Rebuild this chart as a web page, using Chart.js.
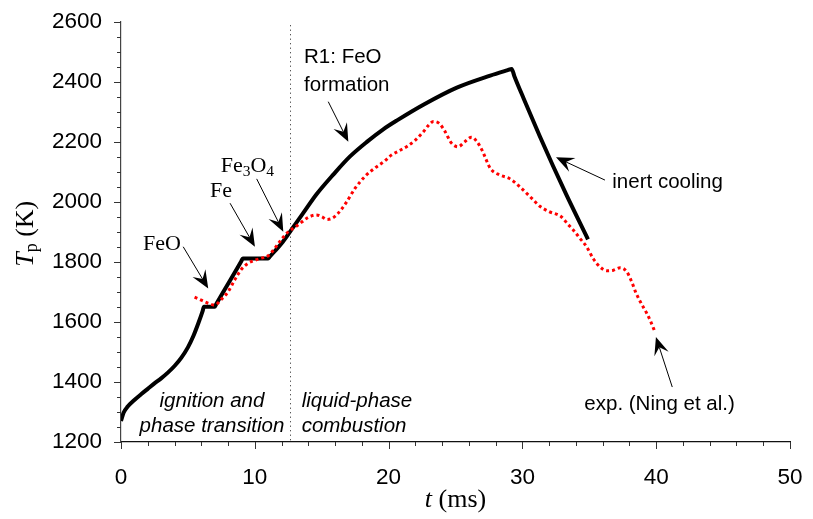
<!DOCTYPE html>
<html>
<head>
<meta charset="utf-8">
<script src="https://cdn.jsdelivr.net/npm/chart.js@4.4.1/dist/chart.umd.min.js"></script>
<style>
  html, body { margin: 0; padding: 0; background: #fff; }
</style>
</head>
<body>
<canvas id="chart" width="813" height="519"></canvas>
<script>
// model (black line): particle temperature vs time
const simTime = [0, 0.2, 0.5, 1.0, 1.5, 2.0, 2.5, 3.0, 3.5, 4.0, 4.5, 5.0, 5.4, 5.8, 6.1, 6.2,
  7.0, 7.1, 9.0, 9.1, 11.0, 11.1,
  12.1, 12.9, 13.6, 14.6, 15.9, 17.1, 18.4, 19.6, 20.6, 22.6, 25.1, 27.6, 28.9, 29.2,
  29.4, 30.1, 31.3, 32.3, 33.3, 34.9];
const simTemp = [1270, 1298, 1318, 1340, 1359, 1377, 1395, 1412, 1431, 1453, 1480, 1515, 1552, 1598, 1636, 1650,
  1650, 1658, 1803, 1811, 1811, 1816,
  1867, 1917, 1961, 2024, 2092, 2150, 2200, 2241, 2270, 2323, 2380, 2420, 2438, 2442,
  2418, 2343, 2218, 2118, 2022, 1875];

// experiment, Ning et al. (red dotted)
const expTime = [5.5, 6.0, 6.5, 7.0, 7.5, 8.0, 8.5, 9.0, 9.5, 10.0, 10.5, 11.0, 11.5, 12.0, 12.5,
  13.0, 13.5, 14.0, 14.6, 15.0, 15.4, 15.8, 16.2, 16.8, 17.5, 18.3, 19.0, 19.7, 20.2, 20.8,
  21.4, 22.0, 22.6, 23.0, 23.35, 23.8, 24.2, 24.7, 25.2, 25.7, 26.2, 26.6, 27.0, 27.6, 28.3,
  29.0, 29.8, 30.7, 31.3, 32.0, 32.9, 33.4, 33.8, 34.3, 34.8, 35.3, 35.8, 36.3, 36.8, 37.3,
  37.8, 38.2, 38.5, 38.9, 39.3, 39.6, 39.9];
const expTemp = [1682, 1672, 1662, 1656, 1675, 1700, 1740, 1775, 1795, 1805, 1812, 1820, 1845, 1875, 1900,
  1915, 1932, 1948, 1956, 1950, 1941, 1945, 1960, 1995, 2045, 2087, 2113, 2135, 2155, 2170,
  2185, 2205, 2233, 2255, 2267, 2260, 2235, 2195, 2183, 2200, 2215, 2200, 2170, 2111, 2089,
  2078, 2050, 2011, 1985, 1967, 1950, 1925, 1906, 1878, 1850, 1810, 1783, 1770, 1772, 1780,
  1767, 1730, 1695, 1660, 1628, 1600, 1567];

const phaseBoundary = 12.6;

// text labels (t, T at left baseline unless centred)
const sansNotes = [
  { text: 'R1: FeO', t: 13.68, T: 2461 },
  { text: 'formation', t: 13.68, T: 2370 },
  { text: 'inert cooling', t: 36.72, T: 2045 },
  { text: 'exp. (Ning et al.)', t: 34.63, T: 1306 },
];
const italicNotes = [
  { text: 'ignition and', t: 6.8, T: 1317, align: 'center' },
  { text: 'phase transition', t: 6.8, T: 1232, align: 'center' },
  { text: 'liquid-phase', t: 13.5, T: 1317, align: 'left' },
  { text: 'combustion', t: 13.5, T: 1233, align: 'left' },
];
// species labels, [main, subscript] pieces
const speciesNotes = [
  { parts: [['FeO', '']], t: 1.64, T: 1839 },
  { parts: [['Fe', '']], t: 6.65, T: 2017 },
  { parts: [['Fe', '3'], ['O', '4']], t: 7.45, T: 2100 },
];
// arrows: [tFrom, TFrom, tTip, TTip]
const arrows = [
  [4.65, 1850, 6.52, 1711],
  [8.15, 1995, 10.01, 1850],
  [10.14, 2076, 12.13, 1900],
  [15.49, 2333, 16.99, 2200],
  [36.17, 2072, 32.51, 2148],
  [41.2, 1383, 39.98, 1550],
];

const toPoints = (xs, ys) => xs.map((v, i) => ({ x: v, y: ys[i] }));

function drawArrow(ctx, x0, y0, x1, y1) {
  const a = Math.atan2(y1 - y0, x1 - x0);
  const len = 18, half = 7.5, notch = 11;
  ctx.beginPath();
  ctx.moveTo(x0, y0);
  ctx.lineTo(x1 - Math.cos(a) * notch, y1 - Math.sin(a) * notch);
  ctx.lineWidth = 1;
  ctx.strokeStyle = '#000';
  ctx.stroke();
  ctx.save();
  ctx.translate(x1, y1);
  ctx.rotate(a);
  ctx.beginPath();
  ctx.moveTo(0, 0);
  ctx.lineTo(-len, -half);
  ctx.lineTo(-notch, 0);
  ctx.lineTo(-len, half);
  ctx.closePath();
  ctx.fillStyle = '#000';
  ctx.fill();
  ctx.restore();
}

const overlay = {
  id: 'overlay',
  beforeDatasetsDraw(chart) {
    const { ctx, chartArea, scales: { x, y } } = chart;
    ctx.save();
    ctx.strokeStyle = '#444';
    ctx.lineWidth = 1;
    ctx.setLineDash([1.2, 3.3]);
    const px = Math.round(x.getPixelForValue(phaseBoundary)) + 0.5;
    ctx.beginPath();
    ctx.moveTo(px, y.getPixelForValue(2588));
    ctx.lineTo(px, chartArea.bottom);
    ctx.stroke();
    ctx.restore();
  },
  afterDraw(chart) {
    const { ctx, chartArea, scales: { x, y } } = chart;
    ctx.save();

    // major / minor tick marks
    ctx.strokeStyle = '#333';
    ctx.lineWidth = 1;
    for (let v = x.min; v <= x.max + 1e-9; v += 2) {
      const px = Math.round(x.getPixelForValue(v)) + 0.5;
      const len = v % 10 === 0 ? 7 : 4;
      ctx.beginPath();
      ctx.moveTo(px, chartArea.bottom);
      ctx.lineTo(px, chartArea.bottom + len);
      ctx.stroke();
    }
    for (let v = y.min; v <= y.max + 1e-9; v += 50) {
      const py = Math.round(y.getPixelForValue(v)) + 0.5;
      const len = v % 200 === 0 ? 7 : 4;
      ctx.beginPath();
      ctx.moveTo(chartArea.left, py);
      ctx.lineTo(chartArea.left - len, py);
      ctx.stroke();
    }

    ctx.fillStyle = '#000';
    ctx.textBaseline = 'alphabetic';

    ctx.font = '20.5px "Liberation Sans", Arial, sans-serif';
    ctx.textAlign = 'left';
    sansNotes.forEach(n => ctx.fillText(n.text, x.getPixelForValue(n.t), y.getPixelForValue(n.T)));

    ctx.font = 'italic 20.5px "Liberation Sans", Arial, sans-serif';
    italicNotes.forEach(n => {
      ctx.textAlign = n.align;
      ctx.fillText(n.text, x.getPixelForValue(n.t), y.getPixelForValue(n.T));
    });

    ctx.textAlign = 'left';
    speciesNotes.forEach(n => {
      let cx = x.getPixelForValue(n.t);
      const cy = y.getPixelForValue(n.T);
      n.parts.forEach(([main, sub]) => {
        ctx.font = '22px "Liberation Serif", "Times New Roman", serif';
        ctx.fillText(main, cx, cy);
        cx += ctx.measureText(main).width;
        if (sub) {
          ctx.font = '15.5px "Liberation Serif", "Times New Roman", serif';
          ctx.fillText(sub, cx, cy + 4);
          cx += ctx.measureText(sub).width;
        }
      });
    });

    arrows.forEach(([t0, T0, t1, T1]) => drawArrow(ctx,
      x.getPixelForValue(t0), y.getPixelForValue(T0),
      x.getPixelForValue(t1), y.getPixelForValue(T1)));

    // x axis title: t (ms)
    const serif = '"Liberation Serif", "Times New Roman", serif';
    const xPieces = [['italic 26px ' + serif, 't'], ['26px ' + serif, ' (ms)']];
    let total = 0;
    xPieces.forEach(([f, s]) => { ctx.font = f; total += ctx.measureText(s).width; });
    let cx = (chartArea.left + chartArea.right) / 2 - total / 2;
    xPieces.forEach(([f, s]) => { ctx.font = f; ctx.fillText(s, cx, 507); cx += ctx.measureText(s).width; });

    // y axis title: T_p (K)
    ctx.save();
    ctx.translate(33, (chartArea.top + chartArea.bottom) / 2 + 2);
    ctx.rotate(-Math.PI / 2);
    const yPieces = [['italic 26px ' + serif, 'T', 0], ['18px ' + serif, 'p', 4], ['26px ' + serif, ' (K)', 0]];
    total = 0;
    yPieces.forEach(([f, s]) => { ctx.font = f; total += ctx.measureText(s).width; });
    cx = -total / 2;
    yPieces.forEach(([f, s, dy]) => { ctx.font = f; ctx.fillText(s, cx, dy); cx += ctx.measureText(s).width; });
    ctx.restore();

    ctx.restore();
  }
};

const tickFont = { family: '"Liberation Sans", Arial, sans-serif', size: 22.5 };

new Chart(document.getElementById('chart'), {
  type: 'line',
  data: {
    datasets: [
      {
        label: 'exp. (Ning et al.)',
        data: toPoints(expTime, expTemp),
        borderColor: '#ff0000',
        borderWidth: 3,
        borderDash: [3, 3],
        borderCapStyle: 'butt',
        pointRadius: 0,
        cubicInterpolationMode: 'monotone',
        fill: false
      },
      {
        label: 'model',
        data: toPoints(simTime, simTemp),
        borderColor: '#000',
        borderWidth: 4,
        borderJoinStyle: 'miter',
        pointRadius: 0,
        cubicInterpolationMode: 'monotone',
        fill: false
      }
    ]
  },
  options: {
    responsive: false,
    animation: false,
    devicePixelRatio: 1,
    layout: { autoPadding: false, padding: { left: 0, right: 23, top: 21.5, bottom: 0 } },
    plugins: { legend: { display: false }, tooltip: { enabled: false } },
    scales: {
      x: {
        type: 'linear',
        min: 0, max: 50,
        // label offset comes from tickLength (tick marks themselves are drawn by the overlay)
        ticks: { stepSize: 10, color: '#000', font: tickFont, padding: 0, maxRotation: 0, callback: (v) => String(v) },
        grid: { display: false, drawTicks: true, tickLength: 22 },
        border: { display: true, color: '#111', width: 1.2 },
        afterFit: (scale) => { scale.height = 77; }
      },
      y: {
        type: 'linear',
        min: 1200, max: 2600,
        ticks: { stepSize: 200, color: '#000', font: tickFont, padding: 0, callback: (v) => String(v) },
        grid: { display: false, drawTicks: true, tickLength: 19 },
        border: { display: true, color: '#444', width: 1.2 },
        afterFit: (scale) => { scale.width = 121; }
      }
    }
  },
  plugins: [overlay]
});
</script>
</body>
</html>
